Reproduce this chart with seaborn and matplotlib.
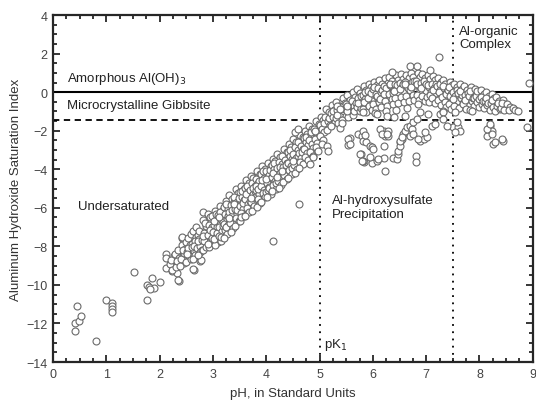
import numpy as np
import pandas as pd
import matplotlib
matplotlib.use("Agg")
import matplotlib.pyplot as plt
from matplotlib.ticker import MultipleLocator
import seaborn as sns

# ---- data (pH, saturation index) ----
low_pts = [(0.44,-11.1),(0.41,-12.0),(0.48,-11.85),(0.52,-11.6),(0.41,-12.4),(0.80,-12.9),
           (1.0,-10.8),(1.1,-10.93),(1.1,-11.1),(1.1,-11.24),(1.1,-11.38),(1.52,-9.31),
           (1.76,-10.76),(1.76,-10.0),(1.80,-10.12),(1.86,-9.65),(1.90,-10.17),(1.82,-10.2),
           (2.0,-9.86),(2.11,-8.39),(2.11,-8.62),(2.11,-9.1),(2.26,-8.9),(2.24,-9.26),
           (2.29,-9.14),(2.32,-9.38),(2.36,-9.78),(2.42,-7.56),(2.65,-9.22),(2.82,-6.23),
           (2.76,-8.74),(2.41,-7.53),(2.63,-9.17),(2.35,-9.72)]

band_pts = [
 (2.19,-8.93),(2.24,-9.21),(2.27,-8.52),(2.21,-8.71),
 (2.28,-8.41),(2.33,-8.91),(2.35,-8.18),(2.30,-9.05),(2.37,-8.62),(2.32,-8.77),
 (2.41,-7.95),(2.43,-8.49),(2.45,-8.88),(2.48,-8.14),(2.40,-8.66),(2.46,-8.33),(2.39,-9.02),(2.44,-8.2),
 (2.50,-7.75),(2.51,-8.28),(2.55,-8.51),(2.57,-7.92),(2.49,-8.79),(2.53,-8.07),(2.58,-8.68),(2.54,-7.56),(2.52,-8.4),
 (2.59,-7.38),(2.61,-7.86),(2.64,-8.22),(2.66,-8.47),(2.60,-8.03),(2.68,-7.51),(2.62,-8.63),(2.67,-7.71),(2.63,-7.18),(2.65,-8.0),
 (2.69,-6.98),(2.71,-7.42),(2.74,-7.61),(2.70,-8.09),(2.76,-8.31),(2.73,-7.19),(2.78,-7.83),(2.75,-7.98),(2.72,-7.74),(2.79,-8.18),(2.77,-8.71),(2.71,-8.45),
 (2.81,-6.62),(2.86,-7.08),(2.83,-7.29),(2.80,-7.66),(2.88,-7.88),(2.82,-8.2),(2.87,-6.92),(2.85,-6.81),(2.89,-7.45),(2.84,-7.71),(2.81,-7.47),(2.86,-8.03),
 (2.90,-6.33),(2.96,-6.71),(2.92,-6.88),(2.99,-7.26),(2.91,-7.39),(2.97,-7.68),(2.93,-8.02),(2.95,-6.49),(2.98,-6.99),(2.94,-7.15),(2.90,-7.9),(2.99,-7.55),
 (3.04,-6.15),(2.99,-6.4),(3.08,-6.55),(3.02,-6.9),(3.07,-7.0),(3.00,-7.25),(3.05,-7.5),(3.09,-7.75),(3.03,-7.95),(3.06,-6.3),(3.01,-6.7),(3.08,-7.3),(3.02,-7.6),
 (3.13,-5.9),(3.18,-6.1),(3.10,-6.35),(3.15,-6.6),(3.19,-6.75),(3.12,-7.0),(3.17,-7.2),(3.11,-7.45),(3.16,-7.7),(3.14,-6.2),(3.19,-6.95),(3.12,-6.5),(3.15,-7.5),
 (3.24,-5.65),(3.21,-5.95),(3.28,-6.05),(3.22,-6.3),(3.26,-6.6),(3.20,-6.85),(3.29,-6.9),(3.23,-7.15),(3.27,-7.35),(3.21,-7.55),(3.25,-5.8),(3.29,-6.45),(3.24,-7.0),
 (3.31,-5.35),(3.36,-5.55),(3.33,-5.85),(3.39,-6.0),(3.30,-6.2),(3.35,-6.4),(3.38,-6.65),(3.32,-6.8),(3.37,-7.05),(3.34,-7.25),(3.39,-5.7),(3.31,-6.55),(3.36,-6.1),
 (3.43,-5.0),(3.47,-5.25),(3.40,-5.45),(3.45,-5.7),(3.49,-5.85),(3.41,-6.05),(3.46,-6.3),(3.44,-6.55),(3.48,-6.7),(3.42,-6.95),(3.49,-5.5),(3.40,-5.8),(3.46,-6.1),
 (3.52,-4.85),(3.58,-5.0),(3.50,-5.2),(3.55,-5.45),(3.59,-5.6),(3.51,-5.9),(3.56,-6.05),(3.53,-6.25),(3.58,-6.45),(3.50,-6.7),(3.54,-5.15),(3.57,-5.75),(3.52,-6.5),
 (3.62,-4.55),(3.67,-4.7),(3.60,-4.95),(3.65,-5.15),(3.69,-5.3),(3.61,-5.55),(3.66,-5.8),(3.63,-6.0),(3.68,-6.2),(3.60,-6.45),(3.64,-4.85),(3.69,-5.65),(3.62,-5.3),
 (3.71,-4.35),(3.76,-4.45),(3.73,-4.7),(3.79,-4.85),(3.70,-5.05),(3.75,-5.3),(3.78,-5.45),(3.72,-5.7),(3.77,-5.9),(3.74,-6.15),(3.79,-5.15),(3.71,-5.5),(3.76,-4.95),
 (3.83,-4.1),(3.88,-4.25),(3.80,-4.5),(3.85,-4.7),(3.89,-4.9),(3.81,-5.1),(3.86,-5.3),(3.84,-5.55),(3.88,-5.75),(3.82,-5.95),(3.87,-4.6),(3.80,-4.85),(3.85,-5.0),
 (3.92,-3.85),(3.97,-4.0),(3.90,-4.25),(3.95,-4.45),(3.99,-4.6),(3.91,-4.85),(3.96,-5.05),(3.93,-5.25),(3.98,-5.45),(3.90,-5.7),(3.94,-4.1),(3.99,-5.2),(3.92,-4.55),
 (4.03,-3.7),(4.08,-3.85),(4.00,-4.1),(4.05,-4.3),(4.09,-4.45),(4.01,-4.7),(4.06,-4.9),(4.04,-5.1),(4.08,-5.3),(4.02,-5.45),(4.07,-4.05),(4.00,-4.5),(4.05,-4.95),
 (4.12,-3.45),(4.17,-3.55),(4.10,-3.8),(4.15,-4.0),(4.19,-4.15),(4.11,-4.4),(4.16,-4.6),(4.13,-4.8),(4.18,-5.0),(4.10,-5.15),(4.14,-3.65),(4.19,-4.7),(4.12,-4.2),
 (4.21,-3.2),(4.26,-3.35),(4.23,-3.6),(4.29,-3.75),(4.20,-3.95),(4.25,-4.2),(4.28,-4.35),(4.22,-4.6),(4.27,-4.8),(4.24,-4.95),(4.29,-4.05),(4.21,-4.4),(4.26,-3.9),
 (4.33,-2.95),(4.38,-3.1),(4.30,-3.3),(4.35,-3.5),(4.39,-3.65),(4.31,-3.9),(4.36,-4.1),(4.34,-4.3),(4.38,-4.5),(4.32,-4.65),(4.37,-3.8),(4.30,-4.1),
 (4.42,-2.7),(4.47,-2.85),(4.40,-3.1),(4.45,-3.3),(4.49,-3.45),(4.41,-3.65),(4.46,-3.85),(4.43,-4.05),(4.48,-4.25),(4.40,-4.45),(4.44,-3.0),(4.49,-3.95),
 (4.51,-2.45),(4.56,-2.6),(4.53,-2.85),(4.59,-3.0),(4.50,-3.2),(4.55,-3.4),(4.58,-3.6),(4.52,-3.8),(4.57,-4.0),(4.54,-4.2),(4.59,-3.3),(4.51,-3.55),
 (4.63,-2.2),(4.68,-2.35),(4.60,-2.6),(4.65,-2.8),(4.69,-2.95),(4.61,-3.15),(4.66,-3.4),(4.64,-3.6),(4.68,-3.75),(4.62,-3.95),(4.67,-3.1),
 (4.72,-2.0),(4.77,-2.15),(4.70,-2.4),(4.75,-2.6),(4.79,-2.75),(4.71,-2.95),(4.76,-3.15),(4.73,-3.35),(4.78,-3.5),(4.74,-2.3),
 (4.81,-1.75),(4.86,-1.9),(4.83,-2.15),(4.89,-2.3),(4.80,-2.5),(4.85,-2.7),(4.88,-2.9),(4.82,-3.1),(4.87,-3.3),(4.84,-2.05),
 (4.93,-1.5),(4.98,-1.65),(4.90,-1.9),(4.95,-2.1),(4.99,-2.25),(4.91,-2.45),(4.96,-2.65),(4.94,-2.85),(4.97,-3.05),(4.92,-2.0),
 (5.02,-1.3),(5.07,-1.45),(5.00,-1.7),(5.05,-1.9),(5.09,-2.05),(5.01,-2.25),(5.06,-2.5),(5.04,-2.7),(5.08,-1.6)]

arc_pts = [
 (5.12,-0.85),(5.17,-1.05),(5.10,-1.3),(5.15,-1.5),(5.19,-1.7),(5.13,-1.95),(5.18,-1.35),
 (5.23,-0.65),(5.28,-0.9),(5.21,-1.1),(5.26,-1.3),(5.29,-1.55),(5.22,-1.75),(5.25,-1.0),
 (5.31,-0.5),(5.36,-0.7),(5.33,-0.95),(5.39,-1.15),(5.30,-1.35),(5.35,-1.6),(5.38,-1.85),(5.32,-1.2),
 (5.44,-0.3),(5.48,-0.55),(5.41,-0.75),(5.46,-1.0),(5.49,-1.25),(5.42,-1.45),(5.47,-0.85),(5.43,-1.6),
 (5.52,-0.15),(5.57,-0.4),(5.50,-0.6),(5.55,-0.85),(5.59,-1.1),(5.53,-1.3),(5.58,-0.7),(5.51,-1.0),
 (5.63,0.0),(5.67,-0.25),(5.60,-0.45),(5.65,-0.7),(5.69,-0.95),(5.62,-1.2),(5.68,-0.55),(5.64,-1.0),
 (5.71,0.15),(5.76,-0.05),(5.73,-0.3),(5.79,-0.5),(5.70,-0.75),(5.75,-1.0),(5.78,-0.8),(5.72,-0.55),(5.77,-0.2),
 (5.84,0.3),(5.88,0.1),(5.81,-0.15),(5.86,-0.35),(5.89,-0.6),(5.82,-0.85),(5.87,-1.05),(5.83,-0.5),(5.85,0.0),
 (5.92,0.45),(5.97,0.25),(5.90,0.05),(5.95,-0.2),(5.99,-0.45),(5.93,-0.7),(5.98,-0.9),(5.91,-0.3),(5.96,-0.05),
 (6.03,0.55),(6.08,0.35),(6.00,0.15),(6.05,-0.1),(6.09,-0.35),(6.01,-0.6),(6.06,-0.85),(6.04,-1.1),(6.07,-0.2),(6.02,0.25),
 (6.12,0.65),(6.17,0.45),(6.10,0.2),(6.15,0.0),(6.19,-0.25),(6.11,-0.5),(6.16,-0.75),(6.14,-0.35),(6.18,0.1),
 (6.23,0.75),(6.28,0.5),(6.21,0.3),(6.26,0.05),(6.29,-0.2),(6.22,-0.45),(6.27,-0.7),(6.24,-1.0),(6.25,0.2),(6.20,-0.1),
 (6.31,0.8),(6.36,0.6),(6.33,0.35),(6.39,0.15),(6.30,-0.1),(6.35,-0.35),(6.38,-0.6),(6.32,0.45),(6.37,-0.05),
 (6.44,0.9),(6.48,0.65),(6.41,0.45),(6.46,0.2),(6.49,-0.05),(6.42,-0.3),(6.47,-0.55),(6.43,-0.9),(6.45,0.35),(6.40,0.05),
 (6.52,0.95),(6.57,0.7),(6.50,0.5),(6.55,0.25),(6.59,0.0),(6.53,-0.25),(6.58,-0.5),(6.51,0.15),(6.56,0.4),
 (6.63,0.9),(6.67,0.75),(6.60,0.55),(6.65,0.3),(6.69,0.05),(6.62,-0.2),(6.68,-0.45),(6.64,-0.8),(6.66,0.2),(6.61,0.4),
 (6.71,1.0),(6.76,0.8),(6.73,0.55),(6.79,0.35),(6.70,0.1),(6.75,-0.15),(6.78,-0.4),(6.72,0.25),(6.77,0.6),
 (6.84,1.0),(6.88,0.8),(6.81,0.6),(6.86,0.35),(6.89,0.1),(6.82,-0.15),(6.87,-0.4),(6.83,0.45),(6.85,-0.6),
 (6.92,0.95),(6.97,0.75),(6.90,0.5),(6.95,0.3),(6.99,0.05),(6.93,-0.2),(6.98,-0.45),(6.91,0.2),(6.96,0.6),
 (7.03,0.9),(7.08,0.7),(7.00,0.45),(7.05,0.25),(7.09,0.0),(7.01,-0.25),(7.06,-0.5),(7.04,0.35),(7.07,-0.15),
 (7.12,0.85),(7.17,0.65),(7.10,0.4),(7.15,0.2),(7.19,-0.05),(7.11,-0.3),(7.16,-0.55),(7.13,0.1),(7.18,0.45),
 (7.23,0.75),(7.28,0.55),(7.21,0.3),(7.26,0.1),(7.29,-0.15),(7.22,-0.4),(7.27,-0.65),(7.24,0.0),(7.25,0.4),
 (7.31,0.65),(7.36,0.45),(7.33,0.2),(7.39,0.0),(7.30,-0.25),(7.35,-0.5),(7.38,-0.75),(7.32,0.3),(7.37,-0.1),
 (7.44,0.55),(7.48,0.35),(7.41,0.1),(7.46,-0.1),(7.49,-0.35),(7.42,-0.6),(7.47,-0.85),(7.43,0.25),(7.45,-0.2),
 (7.52,0.45),(7.57,0.25),(7.50,0.0),(7.55,-0.2),(7.59,-0.45),(7.53,-0.7),(7.58,0.1),(7.51,-0.35),
 (7.63,0.4),(7.67,0.15),(7.60,-0.05),(7.65,-0.3),(7.69,-0.55),(7.62,-0.8),(7.68,-0.15),(7.64,0.05),
 (7.71,0.3),(7.76,0.1),(7.73,-0.15),(7.79,-0.35),(7.70,-0.6),(7.75,-0.85),(7.78,-0.05),(7.72,-0.4),
 (7.84,0.25),(7.88,0.0),(7.81,-0.2),(7.86,-0.45),(7.89,-0.7),(7.82,-0.95),(7.87,-0.3),(7.83,0.05),
 (7.92,0.15),(7.97,-0.05),(7.90,-0.3),(7.95,-0.5),(7.99,-0.75),(7.93,-0.2),(7.96,0.05),
 (8.03,0.1),(8.08,-0.1),(8.00,-0.35),(8.05,-0.6),(8.09,-0.8),(8.02,-0.25),(8.06,-0.45),
 (8.12,0.0),(8.17,-0.2),(8.10,-0.45),(8.15,-0.65),(8.19,-0.9),(8.13,-0.3),(8.16,-0.55),
 (8.23,-0.1),(8.28,-0.3),(8.21,-0.55),(8.26,-0.75),(8.29,-1.0),(8.24,-0.4),
 (8.31,-0.25),(8.36,-0.45),(8.33,-0.7),(8.39,-0.85),(8.34,-0.55),
 (8.44,-0.4),(8.48,-0.6),(8.41,-0.8),(8.46,-0.95),(8.43,-0.55),
 (8.52,-0.6),(8.57,-0.75),(8.55,-0.9),(8.62,-0.8),(8.67,-0.95),(8.73,-0.97)]

scatter_pts = [
 (4.54,-2.09),(4.60,-1.92),(4.88,-3.38),(5.13,-2.78),(5.16,-3.04),(5.53,-2.73),(5.57,-2.4),
 (5.73,-2.18),(5.79,-2.26),(5.82,-2.52),(5.88,-2.61),(5.95,-2.78),(5.98,-2.87),(5.77,-3.21),
 (5.84,-3.64),(5.98,-3.7),(6.07,-3.56),(6.21,-3.44),(6.23,-4.11),(6.20,-2.0),(6.23,-2.26),
 (6.29,-2.0),(6.29,-2.26),(6.20,-2.78),(6.38,-3.44),(6.45,-3.47),(6.48,-3.21),(6.48,-3.04),
 (6.51,-2.61),(6.54,-2.44),(6.57,-2.18),(6.60,-2.0),(6.64,-1.83),(6.70,-1.75),(6.73,-1.92),
 (6.76,-1.57),(6.82,-1.4),(6.80,-3.3),(6.80,-3.64),(6.89,-2.52),(6.95,-2.44),(7.01,-2.35),
 (7.51,-1.83),(7.60,-1.83),(7.64,-2.0),(8.14,-2.26),(8.26,-2.7),(8.45,-2.52),(8.20,-1.75),
 (8.23,-2.0),(8.92,0.47),(8.89,-1.83),(5.82,-2.0),(5.85,-2.23),(6.13,-1.92),(6.17,-2.18),
 (6.26,-2.18),(6.01,-2.95),(5.82,-3.56),(6.10,-3.47),(6.51,-2.78),(6.51,-2.52),(6.54,-2.35),
 (6.70,-2.26),(6.76,-2.18),(6.85,-2.44),(6.98,-2.09),(7.10,-1.75),(7.17,-1.66),(7.26,-1.14),
 (7.32,-0.97),(6.89,-1.05),(7.04,-1.14),(6.60,-1.23),(5.82,-1.05),(6.07,-1.14),(6.26,-1.23),
 (6.39,-1.31),(8.14,-1.92),(8.20,-1.66),(8.23,-2.18),(8.29,-2.61),(8.42,-2.44),(7.86,-0.97),
 (7.54,-1.05),(7.57,-1.57),(7.54,-2.09),(7.32,-1.05),(7.32,-1.4),(7.39,-1.75),(5.32,-0.71),
 (5.38,-0.88),(5.51,-0.71),(5.54,-2.44),(5.57,-2.7),(5.76,-3.21),(5.79,-3.56),(5.95,-3.38),
 (4.82,-3.73),(4.62,-5.8),(4.12,-7.7),(7.24,1.80),(6.69,1.36),(6.82,1.36),(6.36,1.05),
 (7.07,1.16)]

amorphous_si = 0.0
gibbsite_si = -1.45
pk1_ph = 5.0
organic_ph = 7.5

# ---- build table ----
groups = [("low", low_pts), ("band", band_pts), ("arc", arc_pts), ("scatter", scatter_pts)]
rows = []
for name, pts in groups:
    for ph, si in pts:
        rows.append({"pH": ph, "SI": si, "group": name})
df = pd.DataFrame(rows)

sns.set_style("ticks")
plt.rcParams['font.family'] = ['Liberation Sans', 'DejaVu Sans']

fig = plt.figure(figsize=(5.36, 4.02), dpi=100)
ax = fig.add_axes([0.099, 0.097, 0.895, 0.863])

sns.scatterplot(data=df, x="pH", y="SI", ax=ax, marker="o", s=25,
                facecolor="white", edgecolor="#6a6a6a", linewidth=0.8,
                legend=False, zorder=3)

ax.axhline(amorphous_si, color="black", lw=1.5, zorder=2)
ax.axhline(gibbsite_si, color="black", lw=1.3, ls=(0, (3.5, 2.5)), zorder=2)
ax.axvline(pk1_ph, color="black", lw=1.3, ls=(0, (1, 3)), zorder=2)
ax.axvline(organic_ph, color="black", lw=1.3, ls=(0, (1, 3)), zorder=2)

ax.set_xlim(0, 9)
ax.set_ylim(-14, 4)
ax.xaxis.set_major_locator(MultipleLocator(1))
ax.xaxis.set_minor_locator(MultipleLocator(0.25))
ax.yaxis.set_major_locator(MultipleLocator(2))
ax.yaxis.set_minor_locator(MultipleLocator(0.5))
ax.tick_params(which="both", direction="in", top=True, right=True, width=1.3,
               labelsize=9, labelcolor="#444444", pad=4)
ax.tick_params(which="major", length=5)
ax.tick_params(which="minor", length=3)
for sp in ax.spines.values():
    sp.set_linewidth(1.6)

ax.set_xlabel("pH, in Standard Units", fontsize=9.5, color="#333333", labelpad=5)
ax.set_ylabel("Aluminum Hydroxide Saturation Index", fontsize=9.5, color="#333333", labelpad=3)

tk = dict(fontsize=9.5, color="#222222")
ax.text(0.26, 0.3, "Amorphous Al(OH)$_3$", ha="left", va="bottom", **tk)
ax.text(0.26, -1.0, "Microcrystalline Gibbsite", ha="left", va="bottom", **tk)
ax.text(0.47, -5.9, "Undersaturated", ha="left", va="center", **tk)
ax.text(5.23, -5.3, "Al-hydroxysulfate\nPrecipitation", ha="left", va="top", linespacing=1.15, **tk)
ax.text(7.62, 3.5, "Al-organic\nComplex", ha="left", va="top", linespacing=1.15, **tk)
ax.text(5.08, -13.05, "pK$_1$", ha="left", va="center", **tk)

fig.savefig("out.png", dpi=100)
